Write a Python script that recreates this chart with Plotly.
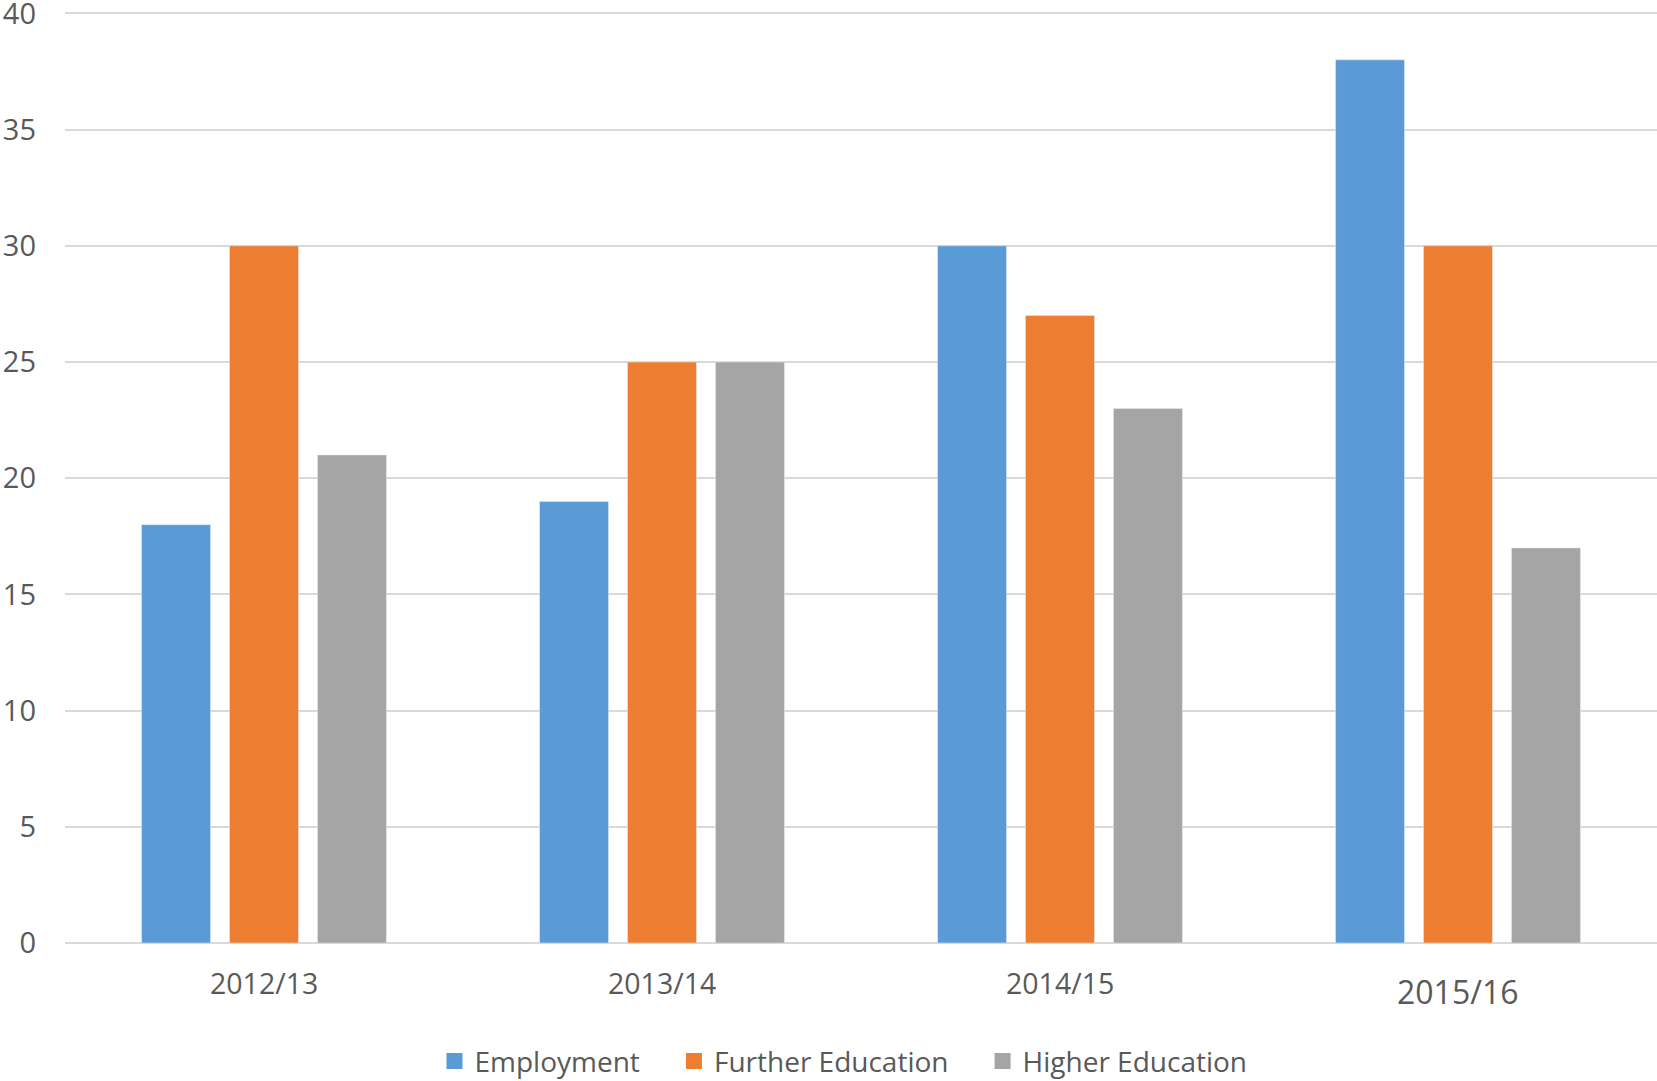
import plotly.graph_objects as go

categories = ["2012/13", "2013/14", "2014/15", "2015/16"]
label_sizes = [28.5, 28.5, 28.5, 32]
label_y = [-0.043, -0.043, -0.043, -0.052]
series_names = ["Employment", "Further Education", "Higher Education"]
series_colors = ["#5B9BD5", "#ED7D31", "#A5A5A5"]
employment = [18, 19, 30, 38]
further_education = [30, 25, 27, 30]
higher_education = [21, 25, 23, 17]
series_values = [employment, further_education, higher_education]

PAD = "\u00a0" * 4

fig = go.Figure()
for name, vals, col in zip(series_names, series_values, series_colors):
    fig.add_bar(name=name, x=categories, y=vals, marker_color=col, showlegend=False)
for i, (name, col) in enumerate(zip(series_names, series_colors)):
    fig.add_scatter(name=name + (PAD if i < len(series_names) - 1 else ""),
                    x=[None], y=[None], mode="markers",
                    marker=dict(symbol="square", size=16, color=col))

for cat, sz, yy in zip(categories, label_sizes, label_y):
    fig.add_annotation(x=cat, xref="x", y=yy, yref="paper", text=cat, showarrow=False,
                       xanchor="center", yanchor="middle",
                       font=dict(size=sz, color="#595959", family="Open Sans"))

fig.update_layout(
    width=1657, height=1081,
    barmode="group", bargap=0.337, bargroupgap=0.216,
    plot_bgcolor="white", paper_bgcolor="white",
    margin=dict(l=65, r=0, t=12, b=138, autoexpand=False),
    font=dict(family="Open Sans", color="#595959", size=26),
    showlegend=True,
    legend=dict(orientation="h", x=0.489, xanchor="center", y=-0.127, yanchor="middle",
                font=dict(size=28, color="#595959"), itemwidth=30, traceorder="normal"),
)
fig.update_yaxes(range=[0, 40.06], tickvals=[0, 5, 10, 15, 20, 25, 30, 35, 40],
                 showgrid=True, gridcolor="#D9D9D9", gridwidth=2, automargin=False,
                 zeroline=True, zerolinecolor="#D9D9D9", zerolinewidth=2,
                 ticklabeloverflow="allow",
                 tickfont=dict(size=29, color="#595959"), ticklabelstandoff=28)
fig.update_xaxes(type="category", showticklabels=False, showgrid=False, automargin=False)

fig.write_html("out.html", config={"displayModeBar": False},
               post_script="document.body.style.margin='0';document.body.style.overflow='hidden';")
